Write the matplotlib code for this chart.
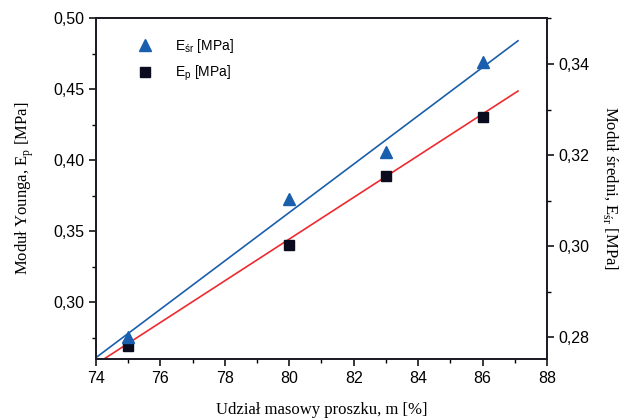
import matplotlib.pyplot as plt
from matplotlib.ticker import MultipleLocator, FuncFormatter
from matplotlib.lines import Line2D

# dane
m = [75, 80, 83, 86]
e_p = [0.269, 0.340, 0.389, 0.430]        # lewa oś
e_sr = [0.2800, 0.3103, 0.3207, 0.3404]   # prawa oś

# linie dopasowania (punkty)
fit_sr_x = [73.85, 87.1]
fit_sr_y = [0.2747, 0.3451]
fit_p_x = [74.25, 87.1]
fit_p_y = [0.2600, 0.4486]

blue = '#1a5fad'
red = '#ee2a2f'
dark = '#0b0b1f'

plt.rcParams['font.family'] = ['Liberation Sans', 'DejaVu Sans']
serif = ['Liberation Serif', 'DejaVu Serif']

fig = plt.figure(figsize=(6.23, 4.19), dpi=100)
ax = fig.add_axes([0.154, 0.1432, 0.724, 0.8138])
ax2 = ax.twinx()

comma = FuncFormatter(lambda v, p: f'{v:.2f}'.replace('.', ','))

ax.plot(fit_p_x, fit_p_y, color=red, lw=1.2)
ax.plot(m, e_p, 's', color=dark, ms=7, zorder=5)
ax2.plot(fit_sr_x, fit_sr_y, color=blue, lw=1.2)
ax2.plot(m, e_sr, '^', color=blue, ms=8, zorder=5)

ax.set_xlim(74, 88)
ax.set_ylim(0.26, 0.50)
ax2.set_ylim(0.2752, 0.3501)

ax.xaxis.set_major_locator(MultipleLocator(2))
ax.xaxis.set_minor_locator(MultipleLocator(1))
ax.yaxis.set_major_locator(MultipleLocator(0.05))
ax.yaxis.set_minor_locator(MultipleLocator(0.025))
ax2.yaxis.set_major_locator(MultipleLocator(0.02))
ax2.yaxis.set_minor_locator(MultipleLocator(0.01))
ax.yaxis.set_major_formatter(comma)
ax2.yaxis.set_major_formatter(comma)

for a in (ax, ax2):
    for s in a.spines.values():
        s.set_linewidth(1.3)
        s.set_color('#1c1c28')
    a.tick_params(which='major', length=5, width=1.1, labelsize=11.5, direction='out')
    a.tick_params(which='minor', length=3, width=1.0, direction='out')

ax.set_xlabel('Udział masowy proszku, m [%]', family=serif, fontsize=12, labelpad=12)
ax.set_ylabel('Moduł Younga, E$_\\mathregular{p}$ [MPa]', family=serif, fontsize=12, labelpad=12)
ax2.set_ylabel('Moduł średni, E$_\\mathregular{śr}$ [MPa]', family=serif, fontsize=12,
               rotation=270, labelpad=22)

handles = [Line2D([], [], marker='^', ls='none', color=blue, ms=9),
           Line2D([], [], marker='s', ls='none', color=dark, ms=7)]
labels = ['E$_\\mathregular{\u015br}$ [MPa]', 'E$_\\mathregular{p}$ [MPa]']
ax.legend(handles, labels, loc='upper left', bbox_to_anchor=(0.05, 0.98), frameon=False,
          fontsize=10, handletextpad=1.2, labelspacing=0.6)

fig.savefig('out.png', dpi=100)
